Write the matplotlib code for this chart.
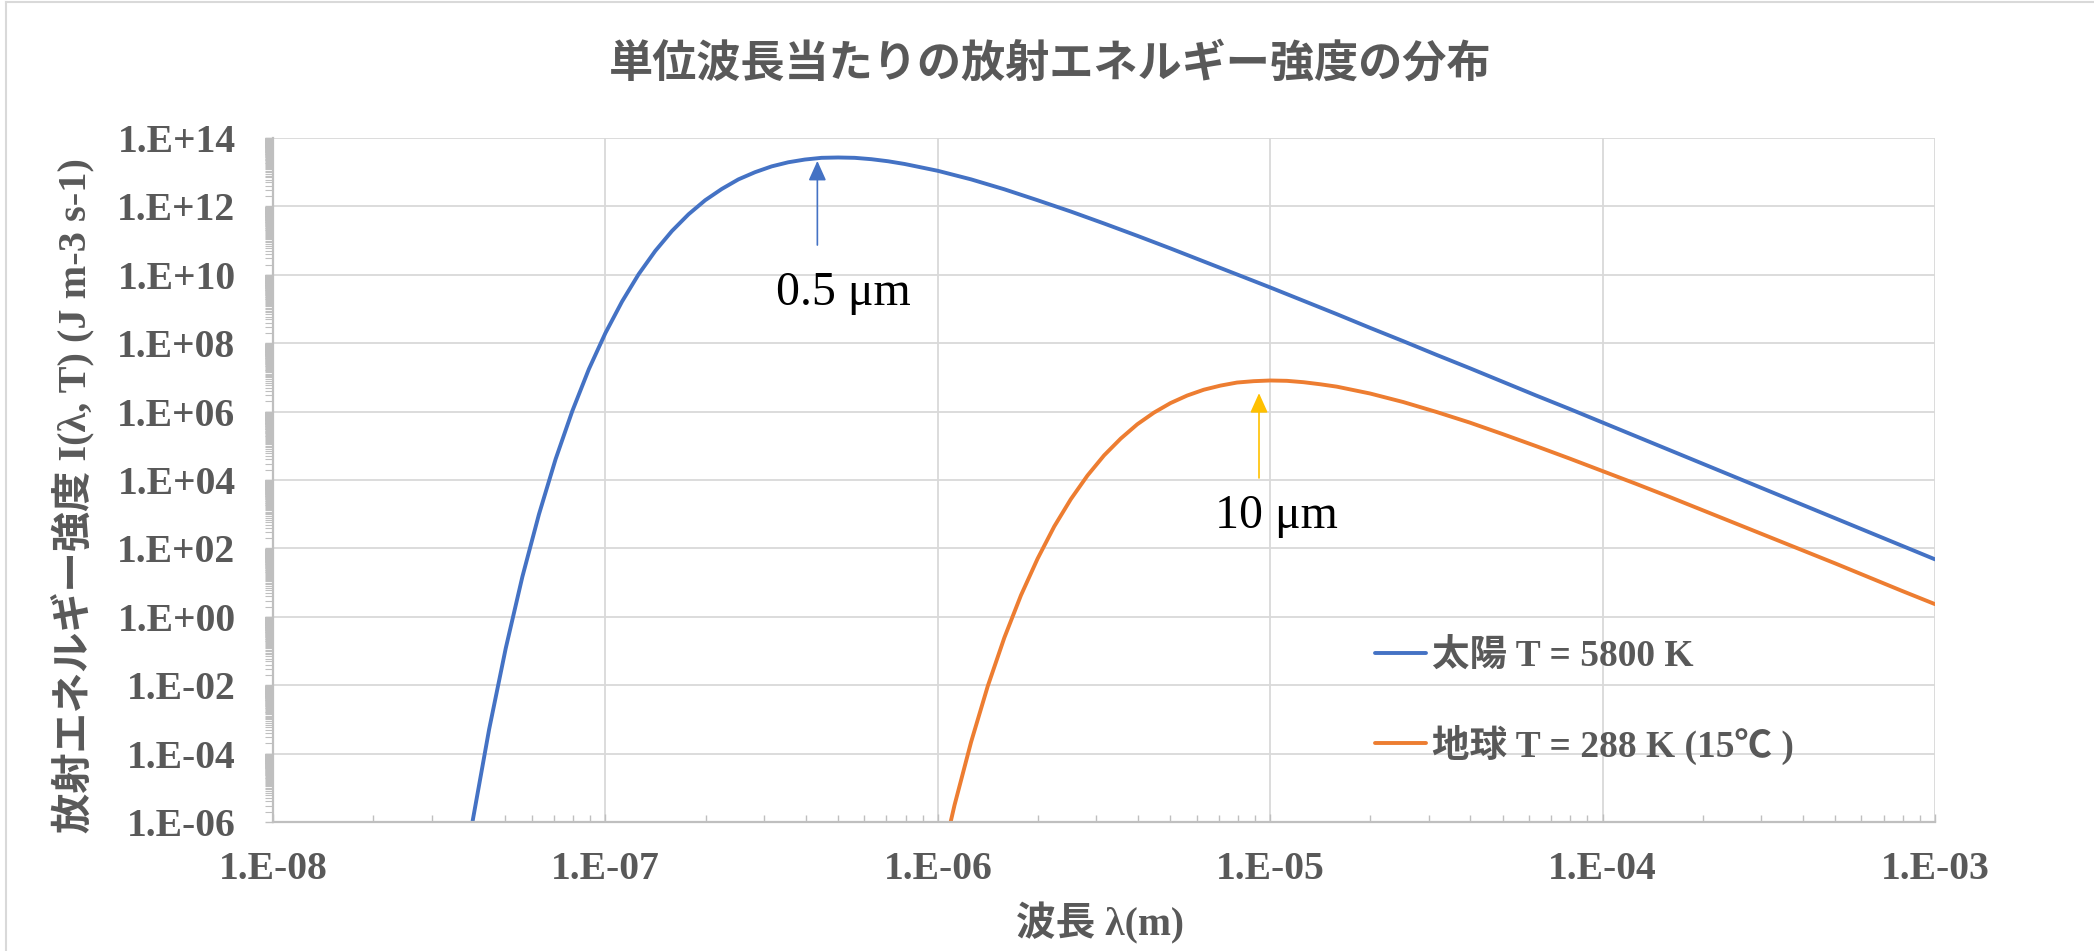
import numpy as np
import matplotlib
matplotlib.use("Agg")
import matplotlib.pyplot as plt
from matplotlib.ticker import FixedLocator, FixedFormatter, NullFormatter
from matplotlib.lines import Line2D

# ---------------- data ----------------
title = "単位波長当たりの放射エネルギー強度の分布"
x_label = "波長 λ(m)"
y_label = "放射エネルギー強度 I(λ, T) (J m-3 s-1)"

# log10 of wavelength (m) and log10 of intensity for each series
sun_log_wl = [-7.45, -7.40, -7.35, -7.30, -7.25, -7.20, -7.15, -7.10, -7.05, -7.00,
              -6.95, -6.90, -6.85, -6.80, -6.75, -6.70, -6.65, -6.60, -6.55, -6.50,
              -6.45, -6.40, -6.35, -6.30, -6.25, -6.20, -6.15, -6.10, -6.00, -5.90,
              -5.80, -5.70, -5.60, -5.50, -5.40, -5.30, -5.20, -5.10, -5.00, -4.90,
              -4.80, -4.70, -4.60, -4.50, -4.40, -4.30, -4.20, -4.10, -4.00, -3.90,
              -3.80, -3.70, -3.60, -3.50, -3.40, -3.30, -3.20, -3.10, -3.00]
sun_log_I = [-9.04, -5.99, -3.29, -0.92, 1.17, 3.00, 4.61, 6.01, 7.24, 8.30,
             9.22, 10.02, 10.70, 11.28, 11.77, 12.18, 12.51, 12.79, 13.00, 13.17,
             13.29, 13.37, 13.42, 13.43, 13.42, 13.38, 13.32, 13.24, 13.04, 12.79,
             12.50, 12.18, 11.85, 11.50, 11.14, 10.77, 10.39, 10.01, 9.63, 9.24,
             8.85, 8.45, 8.06, 7.66, 7.27, 6.87, 6.47, 6.08, 5.68, 5.28,
             4.88, 4.48, 4.08, 3.68, 3.28, 2.88, 2.48, 2.08, 1.68]

earth_log_wl = [-6.00, -5.95, -5.90, -5.85, -5.80, -5.75, -5.70, -5.65, -5.60, -5.55,
                -5.50, -5.45, -5.40, -5.35, -5.30, -5.25, -5.20, -5.15, -5.10, -5.05,
                -5.00, -4.95, -4.90, -4.85, -4.80, -4.70, -4.60, -4.50, -4.40, -4.30,
                -4.20, -4.10, -4.00, -3.90, -3.80, -3.70, -3.60, -3.50, -3.40, -3.30,
                -3.20, -3.10, -3.00]
earth_log_I = [-7.62, -5.51, -3.66, -2.03, -0.61, 0.63, 1.70, 2.64, 3.44, 4.13,
               4.72, 5.21, 5.63, 5.97, 6.25, 6.47, 6.64, 6.76, 6.85, 6.89,
               6.91, 6.90, 6.86, 6.80, 6.73, 6.53, 6.28, 5.99, 5.68, 5.34,
               4.99, 4.63, 4.26, 3.89, 3.51, 3.12, 2.73, 2.34, 1.95, 1.56,
               1.16, 0.76, 0.37]

series_labels = ["太陽 T = 5800 K", "地球 T = 288 K (15℃ )"]
series_colors = ["#4472C4", "#ED7D31"]

x_tick_exps = [-8, -7, -6, -5, -4, -3]
x_tick_labels = ["1.E-08", "1.E-07", "1.E-06", "1.E-05", "1.E-04", "1.E-03"]
y_tick_exps = [-6, -4, -2, 0, 2, 4, 6, 8, 10, 12, 14]
y_tick_labels = ["1.E-06", "1.E-04", "1.E-02", "1.E+00", "1.E+02", "1.E+04",
                 "1.E+06", "1.E+08", "1.E+10", "1.E+12", "1.E+14"]

# annotations: (arrow x, arrow tip log y, arrow tail log y, text x, text baseline log y, text, colour)
ann_sun = (4.34e-7, 13.33, 10.87, 5.19e-7, 9.12, "0.5 μm", "#4472C4")
ann_earth = (9.25e-6, 6.54, 4.06, 1.047e-5, 2.60, "10 μm", "#FFC000")

# ---------------- styling ----------------
GREY = "#595959"
GRID = "#D9D9D9"
AXC = "#BFBFBF"
MIX = ["Liberation Serif", "Noto Sans CJK JP"]

fig = plt.figure(figsize=(20.94, 9.51), dpi=100)
ax = fig.add_axes([0.1304, 0.1356, 0.7937, 0.7193])

ax.plot(10.0 ** np.array(sun_log_wl), 10.0 ** np.array(sun_log_I),
        color=series_colors[0], lw=2.8, label=series_labels[0], solid_capstyle="round")
ax.plot(10.0 ** np.array(earth_log_wl), 10.0 ** np.array(earth_log_I),
        color=series_colors[1], lw=2.8, label=series_labels[1], solid_capstyle="round")

ax.set_xscale("log")
ax.set_yscale("log")
ax.set_xlim(10.0 ** x_tick_exps[0], 10.0 ** x_tick_exps[-1])
ax.set_ylim(10.0 ** y_tick_exps[0], 10.0 ** y_tick_exps[-1])

ax.xaxis.set_major_locator(FixedLocator([10.0 ** e for e in x_tick_exps]))
ax.xaxis.set_major_formatter(FixedFormatter(x_tick_labels))
ax.xaxis.set_minor_locator(FixedLocator([k * 10.0 ** e for e in x_tick_exps[:-1] for k in range(2, 10)]))
ax.xaxis.set_minor_formatter(NullFormatter())

ax.yaxis.set_major_locator(FixedLocator([10.0 ** e for e in y_tick_exps]))
ax.yaxis.set_major_formatter(FixedFormatter(y_tick_labels))
ax.yaxis.set_minor_locator(FixedLocator([k * 10.0 ** e for e in y_tick_exps[:-1] for k in range(2, 100)]))
ax.yaxis.set_minor_formatter(NullFormatter())

ax.grid(True, which="major", color=GRID, lw=1.3)
ax.set_axisbelow(True)
for s in ["top", "right"]:
    ax.spines[s].set_visible(False)
for s in ["left", "bottom"]:
    ax.spines[s].set_color(AXC)
    ax.spines[s].set_linewidth(1.6)

ax.tick_params(axis="x", which="major", direction="in", length=5.5, width=1, color=AXC, pad=21)
ax.tick_params(axis="x", which="minor", direction="in", length=5, width=1, color=AXC)
ax.tick_params(axis="y", which="major", direction="out", length=6, width=1, color=AXC, pad=21)
ax.tick_params(axis="y", which="minor", direction="out", length=6, width=0.8, color=AXC)

for lab in ax.get_xticklabels() + ax.get_yticklabels():
    lab.set_fontfamily("Liberation Serif")
    lab.set_fontweight("bold")
    lab.set_fontsize(28.5)
    lab.set_color(GREY)

# title and axis labels
fig.text(0.5016, 0.933, title, ha="center", va="center", fontsize=31.8,
         fontweight="bold", color=GREY, family=["Noto Sans CJK JP", "DejaVu Sans"])
fig.text(1100 / 2094, 1 - 923 / 951, x_label, ha="center", va="center", fontsize=28.5,
         fontweight="bold", color=GREY, family=MIX)
fig.text(73 / 2094, 0.479, y_label, ha="center", va="center", rotation=90, fontsize=29,
         fontweight="bold", color=GREY, family=MIX)

# annotations
for (xa, tip, tail, xt, yt, txt, col) in [ann_sun, ann_earth]:
    ax.annotate("", xy=(xa, 10.0 ** tip), xytext=(xa, 10.0 ** tail),
                arrowprops=dict(arrowstyle="-|>,head_length=0.8,head_width=0.36",
                                mutation_scale=15, color=col, lw=1.2,
                                shrinkA=0, shrinkB=0))
    ax.text(xt, 10.0 ** yt, txt, ha="center", va="baseline", fontsize=34.5,
            family=["Liberation Serif", "DejaVu Serif"], color="black")

# legend
leg = ax.legend(loc="upper left", bbox_to_anchor=(0.663, 0.268), frameon=False,
                borderpad=0, borderaxespad=0, handlelength=1.35, handletextpad=0.18,
                labelspacing=1.35, prop={"family": MIX, "weight": "bold", "size": 27})
for t in leg.get_texts():
    t.set_color(GREY)
for h in leg.get_lines():
    h.set_linewidth(2.8)

# outer chart border (left and top visible)
fig.add_artist(Line2D([6 / 2094, 6 / 2094], [0, 1 - 2 / 951], transform=fig.transFigure,
                      color=GRID, lw=1.5))
fig.add_artist(Line2D([6 / 2094, 1], [1 - 2 / 951, 1 - 2 / 951], transform=fig.transFigure,
                      color=GRID, lw=1.5))

fig.savefig("out.png", dpi=100, facecolor="white")
